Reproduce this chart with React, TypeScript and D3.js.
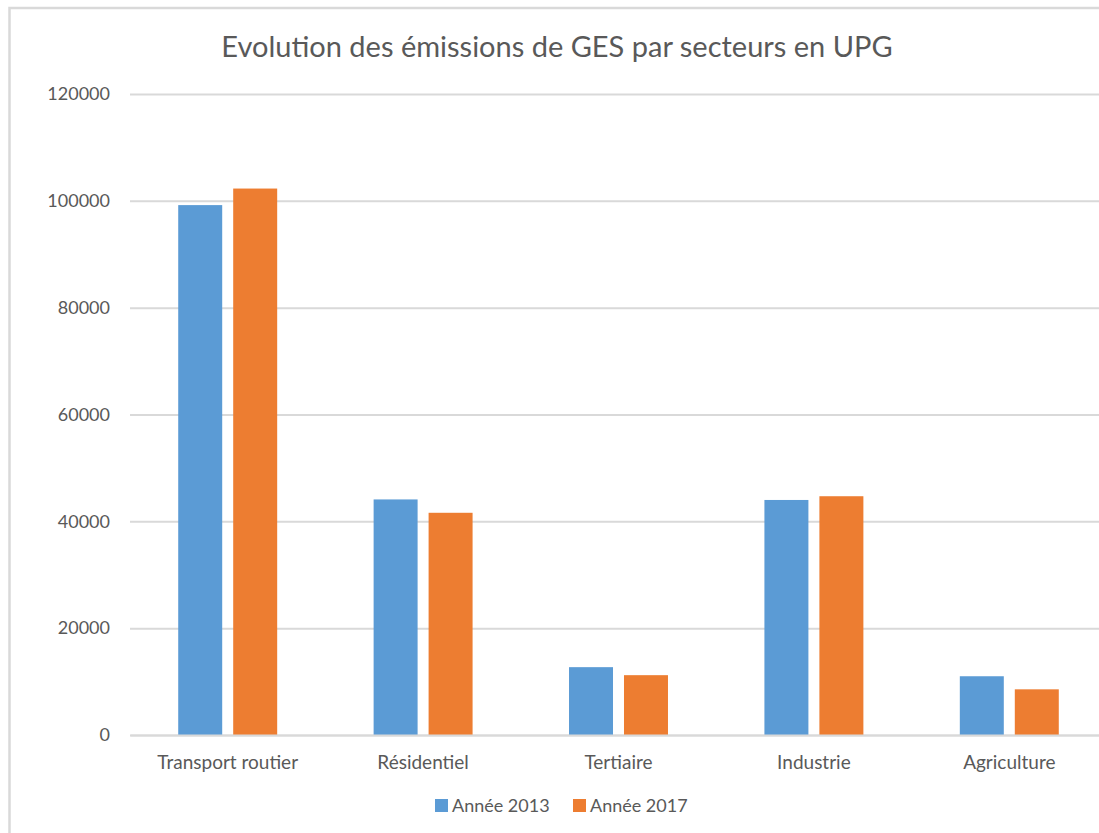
import React, { useEffect, useRef } from "react";
import * as d3 from "d3";

// data
const categories = ["Transport routier", "Résidentiel", "Tertiaire", "Industrie", "Agriculture"];
const seriesNames = ["Année 2013", "Année 2017"];
const values2013 = [99200, 44100, 12700, 44000, 11000];
const values2017 = [102300, 41600, 11200, 44700, 8550];
const yTicks = [0, 20000, 40000, 60000, 80000, 100000, 120000];
const colors = ["#5B9BD5", "#ED7D31"];

const title = "Evolution des émissions de GES par secteurs en UPG";

function App() {
  const ref = useRef<SVGSVGElement>(null);

  const width = 1099,
    height = 833;
  const margin = { top: 94, left: 130, right: -8, bottom: 98 };
  const font = "Lato, 'Open Sans', sans-serif";

  useEffect(() => {
    const svg = d3.select(ref.current);
    svg.selectAll("*").remove();

    const x0 = d3
      .scaleBand()
      .domain(categories)
      .range([margin.left, width - margin.right])
      .padding(0);

    const x1 = d3
      .scaleBand()
      .domain(seriesNames)
      .range([0, x0.bandwidth()])
      .paddingInner(0.2)
      .paddingOuter(0.877);

    const y = d3
      .scaleLinear()
      .domain([0, 120000])
      .range([height - margin.bottom, margin.top]);

    // chart frame
    svg
      .append("rect")
      .attr("x", 9.5)
      .attr("y", 8)
      .attr("width", 1200)
      .attr("height", 900)
      .attr("fill", "#fff")
      .attr("stroke", "#D9D9D9")
      .attr("stroke-width", 2.5);

    svg
      .append("text")
      .attr("x", 557)
      .attr("y", 57)
      .attr("text-anchor", "middle")
      .attr("font-family", font)
      .attr("font-size", 29)
      .attr("fill", "#595959")
      .text(title);

    // gridlines + y labels
    const yAxis = d3
      .axisLeft(y)
      .tickValues(yTicks)
      .tickSize(-(width - margin.right - margin.left))
      .tickPadding(20)
      .tickFormat((d) => String(d));

    const gy = svg
      .append("g")
      .attr("transform", `translate(${margin.left},0)`)
      .call(yAxis);
    gy.select(".domain").remove();
    gy.selectAll(".tick line").attr("stroke", "#D9D9D9").attr("stroke-width", 2);
    gy.selectAll(".tick text")
      .attr("font-family", font)
      .attr("font-size", 18)
      .attr("fill", "#595959");

    // bars
    const series = [values2013, values2017];
    const groups = svg
      .append("g")
      .selectAll("g")
      .data(categories)
      .join("g")
      .attr("transform", (d) => `translate(${x0(d)},0)`);

    groups
      .selectAll("rect")
      .data((d, i) => seriesNames.map((s, j) => ({ s, v: series[j][i], j })))
      .join("rect")
      .attr("x", (d) => x1(d.s)!)
      .attr("y", (d) => y(d.v))
      .attr("width", x1.bandwidth())
      .attr("height", (d) => y(0) - y(d.v))
      .attr("fill", (d) => colors[d.j]);

    // category axis
    const xAxis = d3.axisBottom(x0).tickSize(0).tickPadding(21);
    const gx = svg
      .append("g")
      .attr("transform", `translate(0,${y(0)})`)
      .call(xAxis);
    gx.select(".domain").attr("stroke", "#D9D9D9").attr("stroke-width", 2);
    gx.selectAll(".tick text")
      .attr("font-family", font)
      .attr("font-size", 19)
      .attr("fill", "#595959");

    // legend
    const legendX = [435, 573];
    const legend = svg
      .append("g")
      .selectAll("g")
      .data(seriesNames)
      .join("g")
      .attr("transform", (d, i) => `translate(${legendX[i]},799)`);
    legend
      .append("rect")
      .attr("width", 13)
      .attr("height", 13)
      .attr("fill", (d, i) => colors[i]);
    legend
      .append("text")
      .attr("x", 17)
      .attr("y", 13)
      .attr("font-family", font)
      .attr("font-size", 18)
      .attr("fill", "#595959")
      .text((d) => d);
  }, []);

  return (
    <svg
      ref={ref}
      width={width}
      height={height}
      style={{ position: "absolute", left: 0, top: 0, background: "#fff" }}
    />
  );
}

export default App;
